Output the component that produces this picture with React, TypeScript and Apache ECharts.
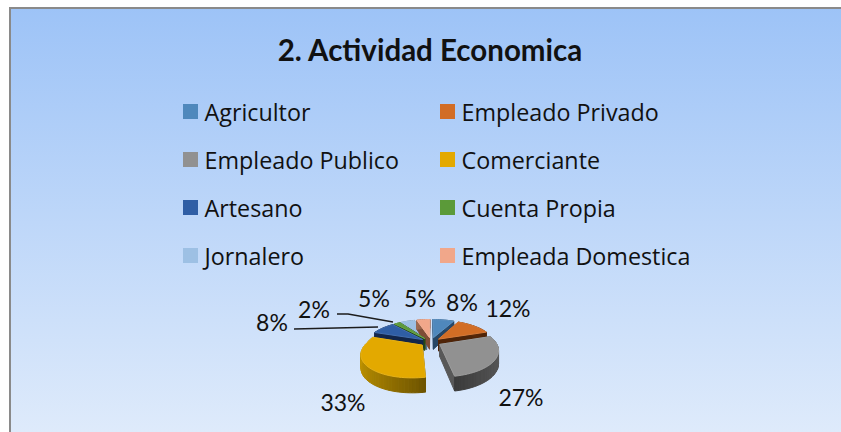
import React, { useEffect, useRef } from "react";
import * as echarts from "echarts";

const categories = ["Agricultor", "Empleado Privado", "Empleado Publico", "Comerciante", "Artesano", "Cuenta Propia", "Jornalero", "Empleada Domestica"];
const shares = [8, 12, 27, 33, 8, 2, 5, 5];
const colors = ["#4f88bc", "#d26d25", "#919191", "#e3a900", "#2f5ea5", "#5b9a39", "#9dc0e4", "#f1a78a"];
const wallLeft = ["#3a6590", "#6b3410", "#3a3a3a", "#c09400", "#16294f", "#3c6a22", "#6d8eae", "#a06a50"];
const wallRight = ["#254666", "#4f2408", "#585858", "#6f5500", "#12264a", "#274a14", "#55728e", "#7f4c36"];
const drawOrder = [6, 7, 0, 5, 1, 4, 2, 3];
const frontSkew = [0, 0, 0, 0.15, 0, 0, 0, 0];
const labelCenters = [[462, 302], [508, 308], [521, 397], [343, 402], [272, 322], [314, 309], [374, 298], [420, 298]];
const leaders: Record<number, number[][]> = {
  4: [[294, 329], [378, 327]],
  5: [[337, 314], [348, 314], [393, 322]],
};

const CX = 431, CY = 342, R = 56, EXPLODE = 10, TILT = 0.46, PERSP = 0.22, DEPTH = 12;

const total = shares.reduce((a, b) => a + b, 0);

function project(x: number, y: number, drop = 0, skew = 0): number[] {
  const f = 1 + PERSP * (y / R);
  return [CX + x * f - skew * Math.max(0, y), CY + y * f * TILT + drop * f];
}

function slicePaths(index: number) {
  const before = shares.slice(0, index).reduce((a, b) => a + b, 0);
  const a0 = (before / total) * Math.PI * 2;
  const a1 = ((before + shares[index]) / total) * Math.PI * 2;
  const mid = (a0 + a1) / 2;
  const ox = Math.sin(mid) * EXPLODE;
  const oy = -Math.cos(mid) * EXPLODE;
  const steps = Math.max(4, Math.ceil((a1 - a0) / 0.05));
  const arc: number[][] = [];
  for (let i = 0; i <= steps; i++) {
    const a = a0 + ((a1 - a0) * i) / steps;
    arc.push([ox + Math.sin(a) * R, oy - Math.cos(a) * R]);
  }
  return { ox, oy, arc };
}

function sliceChildren(index: number) {
  const { ox, oy, arc } = slicePaths(index);
  const sk = frontSkew[index];
  const pt = (p: number[], drop = 0) => project(p[0], p[1], drop, sk);
  const tip = [ox, oy];
  const children: any[] = [];
  const poly = (pts: number[][], fill: any) => ({
    type: "polygon",
    shape: { points: pts },
    style: { fill, stroke: fill, lineWidth: 1 },
  });
  const first = arc[0];
  const last = arc[arc.length - 1];
  children.push(poly([pt(tip), pt(first), pt(first, DEPTH), pt(tip, DEPTH)], wallRight[index]));
  children.push(poly([pt(tip), pt(last), pt(last, DEPTH), pt(tip, DEPTH)], wallRight[index]));
  const xs = arc.map((p) => p[0]);
  const xMin = Math.min(...xs);
  const xMax = Math.max(...xs);
  for (let i = 0; i < arc.length - 1; i++) {
    const p = arc[i];
    const q = arc[i + 1];
    const t = (p[0] - xMin) / Math.max(1, xMax - xMin);
    const shade = echarts.color.lerp(t, [wallLeft[index], wallRight[index]]);
    children.push(poly([pt(p), pt(q), pt(q, DEPTH), pt(p, DEPTH)], shade));
  }
  const top = [pt(tip), ...arc.map((p) => pt(p))];
  children.push({
    type: "polygon",
    shape: { points: top },
    style: { fill: colors[index], stroke: echarts.color.lift(colors[index], 0.1), lineWidth: 1 },
  });
  return children;
}

export default function App() {
  const ref = useRef<HTMLDivElement>(null);
  useEffect(() => {
    document.body.style.margin = "0";
    const chart = echarts.init(ref.current!, undefined, { renderer: "svg" });
    const font = "Lato";
    const legendBase = {
      orient: "vertical" as const,
      padding: 0,
      itemWidth: 15,
      itemHeight: 15,
      itemGap: 21,
      icon: "rect",
      textStyle: { fontFamily: "Open Sans", fontSize: 23.3, color: "#111", lineHeight: 22, padding: [0, 0, 5, 1.5] },
    };
    const series: any[] = categories.map((name, i) => ({
      type: "custom",
      name,
      coordinateSystem: "none",
      z: 5 + drawOrder.indexOf(i),
      itemStyle: { color: colors[i] },
      data: [[shares[i]]],
      silent: true,
      renderItem: () => ({ type: "group", children: sliceChildren(i) }),
    }));
    series.push({
      type: "custom",
      name: "leaders",
      coordinateSystem: "none",
      z: 30,
      silent: true,
      data: shares.map((v) => [v]),
      renderItem: (params: any) => {
        const pts = leaders[params.dataIndex];
        if (!pts) return null;
        return {
          type: "polyline",
          shape: { points: pts },
          style: { stroke: "#1c1c1c", lineWidth: 1.5, fill: "none" },
        };
      },
    });
    const percentLabels = shares.map((v, i) => ({
      text: `${v}%`,
      left: labelCenters[i][0],
      top: labelCenters[i][1],
      padding: 0,
      textAlign: "center",
      textVerticalAlign: "middle",
      textStyle: { fontFamily: font, fontSize: 23, fontWeight: "normal", color: "#111" },
    }));
    chart.setOption({
      animation: false,
      title: [
        {
          text: "2. Actividad Economica",
          left: 430,
          top: 34,
          padding: 0,
          textAlign: "center",
          textStyle: { fontFamily: font, fontSize: 29.5, fontWeight: "bold", color: "#111" },
        },
        ...percentLabels,
      ],
      legend: [
        { ...legendBase, left: 183, top: 98, data: categories.filter((_, i) => i % 2 === 0) },
        { ...legendBase, left: 440, top: 98, data: categories.filter((_, i) => i % 2 === 1) },
      ],
      graphic: [
        {
          type: "rect",
          z: -1,
          shape: { x: 10, y: 8, width: 840, height: 430 },
          style: {
            fill: new echarts.graphic.LinearGradient(0, 0, 0, 1, [
              { offset: 0, color: "#9dc3f7" },
              { offset: 1, color: "#dfebfb" },
            ]),
            stroke: "#8a8a8a",
            lineWidth: 2,
          },
        },
      ],
      series,
    });
    return () => chart.dispose();
  }, []);
  return <div ref={ref} style={{ width: 841, height: 432, overflow: "hidden" }} />;
}
